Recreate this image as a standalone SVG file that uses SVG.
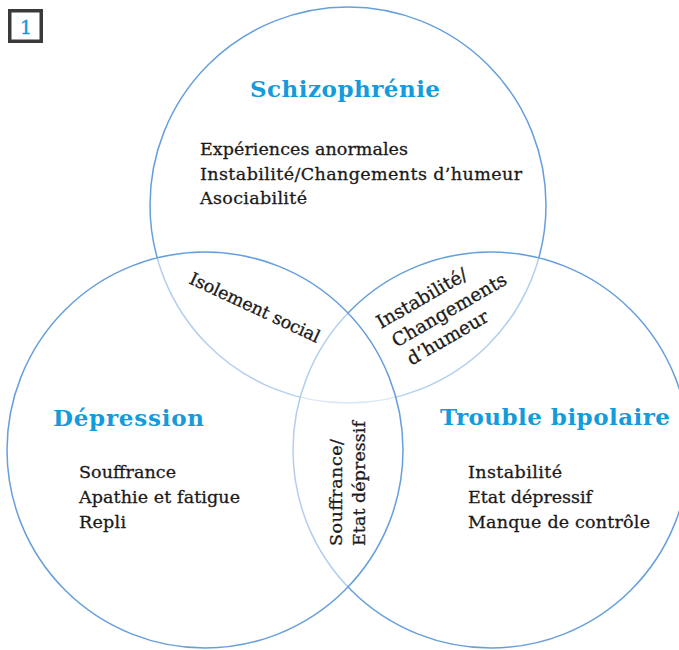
<svg xmlns="http://www.w3.org/2000/svg" width="679" height="650" viewBox="0 0 679 650">
<style>
.circ{fill:#ffffff;fill-opacity:0.5;stroke:#669fdb;stroke-width:1.5}
.title{font-family:"DejaVu Serif","Liberation Serif",serif;font-weight:bold;font-size:23px;fill:#139bdb}
.body{font-family:"DejaVu Serif","Liberation Serif",serif;font-size:17.5px;fill:#1a1a1a;stroke:#1a1a1a;stroke-width:0.3}
.lens{font-size:18.5px}
</style>
<rect width="679" height="650" fill="#ffffff"/>
<g id="badge">
<rect x="9.75" y="10.75" width="31.5" height="30.5" fill="#ffffff" stroke="#3a3a3a" stroke-width="3.5"/>
<text x="26" y="33.5" text-anchor="middle" style="font-family:'DejaVu Serif','Liberation Serif',serif;font-size:19px;fill:#139bdb;stroke:#139bdb;stroke-width:0.4">1</text>
</g>
<g id="schizophrenie">
<circle class="circ" cx="348" cy="205" r="198"/>
<text class="title" x="250" y="97" textLength="190">Schizophrénie</text>
<text class="body" x="200" y="155" textLength="208">Expériences anormales</text>
<text class="body" x="200" y="179.5" textLength="322">Instabilité/Changements d’humeur</text>
<text class="body" x="200" y="204" textLength="107">Asociabilité</text>
</g>
<g id="trouble-bipolaire">
<circle class="circ" cx="491" cy="450" r="198"/>
<text class="title" x="440" y="425" textLength="230">Trouble bipolaire</text>
<text class="body" x="468" y="478" textLength="94">Instabilité</text>
<text class="body" x="468" y="503" textLength="124">Etat dépressif</text>
<text class="body" x="468" y="528" textLength="182">Manque de contrôle</text>
</g>
<g id="depression">
<circle class="circ" cx="205" cy="450" r="198"/>
<text class="title" x="53" y="426" textLength="151">Dépression</text>
<text class="body" x="79" y="478" textLength="97">Souffrance</text>
<text class="body" x="79" y="503" textLength="161">Apathie et fatigue</text>
<text class="body" x="79" y="528" textLength="47">Repli</text>
</g>
<g id="isolement-social" transform="translate(188,283) rotate(25)">
<text class="body" x="0" y="0" textLength="142">Isolement social</text>
</g>
<g id="instabilite-changements" transform="translate(381,329) rotate(-30)">
<text class="body lens" x="0" y="0">Instabilité/</text>
<text class="body lens" x="4" y="24">Changements</text>
<text class="body lens" x="8" y="47">d’humeur</text>
</g>
<g id="souffrance-etat" transform="translate(342,546) rotate(-90)">
<text class="body" x="0" y="0" textLength="107">Souffrance/</text>
<text class="body" x="0" y="23" textLength="125">Etat dépressif</text>
</g>
</svg>
